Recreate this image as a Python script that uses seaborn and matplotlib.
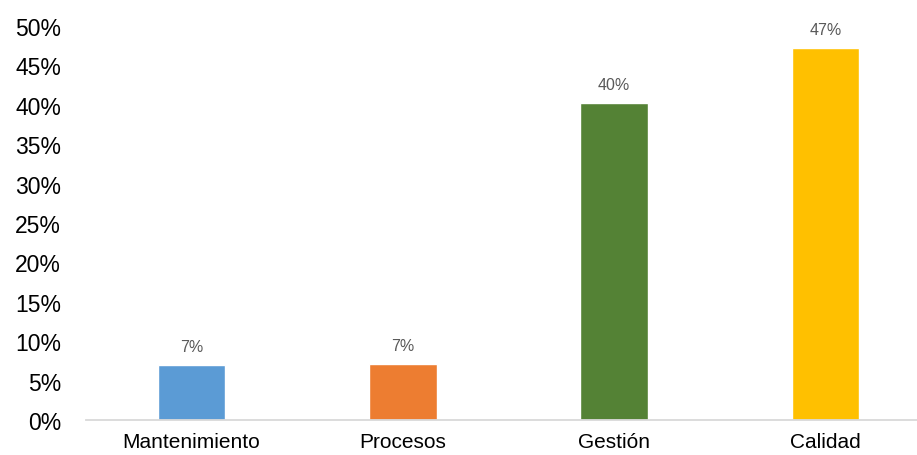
import matplotlib
matplotlib.use("Agg")
import matplotlib.pyplot as plt
import seaborn as sns
import pandas as pd
from matplotlib.ticker import FuncFormatter, MultipleLocator

categories = ["Mantenimiento", "Procesos", "Gestión", "Calidad"]
values = [0.07, 0.071, 0.402, 0.472]
labels = ["7%", "7%", "40%", "47%"]
colors = ["#5B9BD5", "#ED7D31", "#548235", "#FFC000"]

df = pd.DataFrame({"cat": categories, "val": values})

sns.set_theme(style="white")
plt.rcParams["font.family"] = ["Liberation Sans", "DejaVu Sans"]

fig = plt.figure(figsize=(9.17, 4.56), dpi=100)
ax = fig.add_axes([86 / 917, 35 / 456, (931 - 86) / 917, (421 - 27) / 456])

sns.barplot(data=df, x="cat", y="val", hue="cat", palette=colors,
            width=0.32, legend=False, ax=ax, saturation=1)

ax.set_ylim(0, 0.5)
ax.set_xlim(-0.5, 3.5)
ax.yaxis.set_major_locator(MultipleLocator(0.05))
ax.yaxis.set_major_formatter(FuncFormatter(lambda v, p: f"{round(v * 100)}%"))
ax.set_xlabel("")
ax.set_ylabel("")

for s in ["top", "right", "left"]:
    ax.spines[s].set_visible(False)
ax.spines["bottom"].set_color("#D9D9D9")
ax.spines["bottom"].set_linewidth(1.3)

ax.tick_params(axis="y", length=0, pad=18, labelsize=16.5, labelcolor="#000000")
ax.tick_params(axis="x", length=0, pad=9, labelsize=15, labelcolor="#000000")

for i, (v, lab) in enumerate(zip(values, labels)):
    ax.annotate(lab, (i, v), xytext=(0, 8), textcoords="offset points",
                ha="center", va="bottom", fontsize=11.5, color="#595959")

fig.savefig("out.png", dpi=100)
